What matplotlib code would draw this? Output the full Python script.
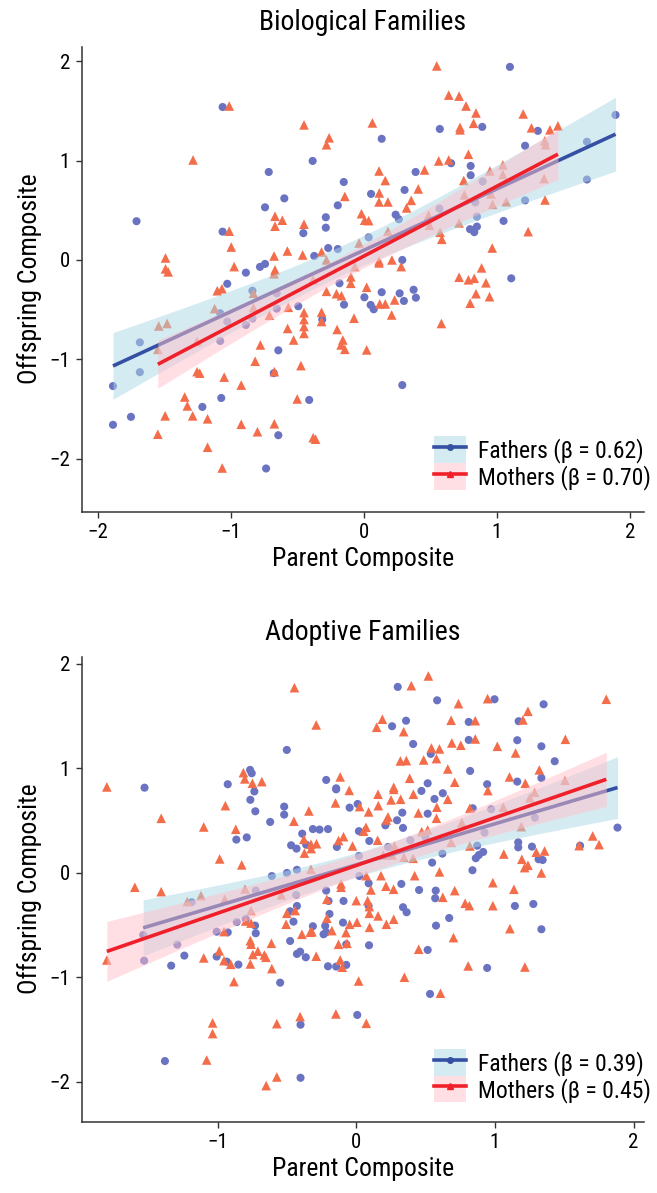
import numpy as np
import matplotlib
matplotlib.use("Agg")
import matplotlib.pyplot as plt
from matplotlib.patches import Patch
from matplotlib.lines import Line2D

# ---------------- data ----------------
bio_f_x = [-1.061, -1.708, -0.714, -0.384, -0.150, -0.742, -0.597, -0.195, -0.285, -0.285, -0.454, -1.061,
           -0.372, -0.267, -0.195, -0.78, -0.742,
           -0.886, -1.026, -0.837, -1.683, -1.683, -1.885, -1.885, -1.75, -1.079, -1.026, -1.079, -0.886,
           -0.837, -0.654, -0.654, -0.492, -0.312, -0.182, -0.148, -0.642, -0.676, -1.071, -1.213, -0.41,
           -0.642, -0.734,
           1.099, 0.572, 0.891, 1.309, 0.135, 1.213, 1.678, 1.893, 1.678, 0.657, 0.804, 0.804, 0.39, 0.894,
           0.307, 0.055, 1.213, 0.569, 0.839, 0.24, 0.264, 0.851, 1.051, 0.851, 0.799, 0.831, 0.037, 0.29,
           1.109, 0.005, 0.135, 0.27, 0.375, 0.392, 0.302, 0.052, 0.075, 0.29]
bio_f_y = [1.54, 0.39, 0.886, 0.997, 0.785, 0.53, 0.62, 0.55, 0.43, 0.325, 0.27, 0.285,
           0.04, 0.12, 0.11, -0.07, -0.04,
           -0.128, -0.24, -0.31, -0.83, -1.13, -1.27, -1.66, -1.58, -0.537, -0.62, -0.816, -0.655,
           -0.59, -0.49, -0.336, -0.466, -0.6, -0.235, -0.45, -0.91, -1.14, -1.39, -1.48, -1.41,
           -1.765, -2.10,
           1.944, 1.319, 1.34, 1.30, 1.22, 1.15, 1.19, 1.46, 0.81, 0.974, 0.947, 0.853, 0.886, 0.79,
           0.705, 0.665, 0.60, 0.517, 0.58, 0.456, 0.41, 0.436, 0.393, 0.336, 0.31, 0.28, 0.228, 0.0,
           -0.185, -0.376, -0.325, -0.336, -0.30, -0.38, -0.413, -0.453, -0.497, -1.26]

bio_m_x = [-1.011, -1.283, -0.449, -0.26, -0.28, -0.142, -0.667, -0.612, -0.667, -0.449, -1.011, -0.996,
           -0.574, -0.674, -0.459, -0.317, -0.035, -0.28, -1.49,
           -1.49, -1.47, -0.974, -0.667, -0.674, -1.101, -1.066, -1.121, -0.829, -0.829, -0.709, -1.541,
           -1.478, -1.548, -1.253, -1.253, -1.233, -1.049, -0.921, -0.777, -0.816, -1.346, -1.326, -1.286,
           -1.174, -1.493, -1.548, -1.174, -1.064, -0.921, -0.799, -0.672, -0.672, -0.472, -0.5, -0.38,
           -0.362, -0.572, -0.527, -0.567, -0.449, -0.449, -0.449, -0.449, -0.317, -0.317, -0.2, -0.157,
           -0.17, -0.142, -0.073, -0.28, -0.205, -0.167, -0.097, -0.097, -0.38, -0.067,
           0.549, 0.639, 0.717, 0.769, 0.844, 0.065, 0.724, 0.724, 0.826, 1.199, 1.261, 1.40, 1.46, 1.361,
           1.366, 1.356, 1.363, 1.046, 1.046, 0.949, 0.787, 0.564, 0.639, 0.457, 0.115, 0.162, 0.752,
           0.117, 0.41, 0.357, 0.115, 0.182, 0.322, 0.757, 0.957, 0.969, 1.071, -0.017, 0.007, 0.037,
           0.487, 0.494, 0.182, 0.717, 0.574, 0.587, 1.236, 0.966, 0.115, 0.115, 0.212, 0.282, 0.886,
           0.022, 0.12, 0.162, 0.232, 0.21, 0.717, 0.787, 0.831, 0.919, 0.844, 0.946, 0.80, 0.584, 0.022]
bio_m_y = [1.55, 1.007, 1.36, 1.23, 1.16, 0.64, 0.44, 0.40, 0.34, 0.36, 0.29, 0.13,
           0.09, 0.04, 0.05, 0.08, 0.17, 0.0, 0.02,
           -0.09, -0.12, -0.067, -0.10, -0.14, -0.31, -0.29, -0.49, -0.336, -0.48, -0.557, -0.665,
           -0.64, -0.90, -0.82, -1.125, -1.14, -1.18, -1.26, -0.856, -1.02, -1.38, -1.47, -1.57,
           -1.60, -1.57, -1.755, -1.886, -2.095, -1.655, -1.73, -1.65, -1.125, -1.064, -1.40, -1.79,
           -1.805, -0.69, -0.806, -0.477, -0.53, -0.60, -0.67, -0.74, -0.527, -0.62, -0.70, -0.806,
           -0.856, -0.90, -0.587, -0.316, -0.34, -0.36, -0.17, -0.235, -0.20, -0.067,
           1.954, 1.66, 1.65, 1.55, 1.48, 1.38, 1.335, 1.31, 1.376, 1.47, 1.33, 1.31, 1.35, 1.20,
           1.16, 0.82, 0.604, 0.957, 0.86, 0.896, 1.064, 0.997, 1.007, 0.906, 0.896, 0.80, 0.80,
           0.675, 0.715, 0.60, 0.584, 0.584, 0.524, 0.655, 0.665, 0.56, 0.587, 0.466, 0.40, 0.396,
           0.45, 0.35, 0.289, 0.373, 0.279, 0.208, 0.285, 0.12, -0.01, -0.03, 0.0, -0.067, -0.08,
           -0.275, -0.443, -0.443, -0.403, -0.554, -0.174, -0.20, -0.185, -0.23, -0.34, -0.37, -0.436, -0.64, -0.906]

ado_f_x = [-1.527, -0.501, -0.927, -0.766, -0.754, -0.735, -0.764, -0.728, -0.621, -0.52, -0.52, -0.217,
           -0.145, -0.145, -0.048, 0.01, 0.019, -0.39, -0.313, -0.265, -0.204, -0.47, -0.431, -0.361,
           -0.14, -0.865, -0.79, -0.609, -0.50, -0.428, 0.019,
           -1.187, -1.537, -1.53, -1.291, -1.335, -1.24, -1.38, -1.007, -1.007, -0.927, -0.862, -0.797,
           -0.73, -0.725, -0.725, -0.934, -0.85, -0.549, -0.434, -0.428, -0.477, -0.453, -0.477, -0.405,
           -0.428, -0.364, -0.313, -0.217, -0.2, -0.193, -0.224, -0.236, -0.217, -0.092, -0.096, -0.072,
           -0.204, -0.145, -0.072, -0.402, -0.402, 0.007,
           0.299, 0.583, 0.997, 1.351, 0.359, 0.258, 0.811, 1.171, 0.811, 1.161, 1.335, 0.41, 0.537,
           1.431, 0.821, 1.335, 1.161, 0.944, 0.515, 0.47, 0.624, 0.564, 0.332, 0.515, 0.294, 0.21,
           0.337, 0.094, 0.84, 0.973, 0.925, 1.288, 0.499, 0.39, 0.229, 0.621, 0.547, 0.872, 0.915,
           0.884, 0.862, 0.838, 1.168, 1.168, 1.267, 1.315, 1.344, 1.614, 1.884,
           0.022, 0.089, 0.325, 0.453, 0.573, 0.569, 0.089, 0.337, 0.363, 0.67, 0.575, 0.092, 0.515,
           0.944, 0.532, 1.144, 1.277, 1.335]
ado_f_y = [0.816, 1.177, 0.849, 0.986, 0.954, 0.78, 0.70, 0.59, 0.488, 0.635, 0.558, 0.89,
           0.80, 0.81, 0.625, 0.66, 0.40, 0.376, 0.42, 0.415, 0.42, 0.265, 0.233, 0.27,
           0.249, 0.319, 0.34, -0.03, 0.0, 0.03, 0.163,
           -0.28, -0.593, -0.839, -0.686, -0.887, -0.791, -1.80, -0.80, -0.562, -0.568, -0.47, -0.44,
           -0.504, -0.577, -0.169, -0.849, -0.877, -1.05, -0.21, -0.316, -0.367, -0.466, -0.651, -0.753,
           -0.775, -0.807, -0.51, -0.169, -0.268, -0.392, -0.507, -0.587, -0.568, -0.268, -0.475, -0.683,
           -0.893, -0.896, -0.88, -1.452, -1.96, -1.359,
           1.78, 1.652, 1.662, 1.614, 1.457, 1.404, 1.445, 1.452, 1.273, 1.27, 1.212, 1.234, 1.139,
           1.069, 0.976, 0.909, 0.874, 0.849, 0.858, 0.785, 0.763, 0.708, 0.577, 0.567, 0.504, 0.456,
           0.431, 0.306, 0.619, 0.61, 0.386, 0.529, 0.347, 0.313, 0.249, 0.185, 0.099, 0.261, 0.201,
           0.172, 0.141, 0.026, 0.293, 0.245, 0.252, 0.131, 0.124, 0.261, 0.434,
           -0.029, -0.099, -0.105, -0.163, -0.169, -0.242, -0.316, -0.328, -0.376, -0.431, -0.504, -0.692, -0.737,
           -0.909, -1.158, -0.316, -0.297, -0.539]

ado_m_x = [-1.799, -0.446, -0.289, -1.407, -1.1, -0.944, -0.869, -0.985, -0.826, -0.814, -0.804, -0.749,
           -0.681, -0.45, -0.342, -0.116, -0.051, -0.15, 0.024, -0.378, -0.327, -0.287, -0.325, -0.374,
           -0.128, -0.092, -0.027, -0.327,
           -1.597, -1.407, -1.12, -1.219, -0.949, -0.802, -0.759, -0.797, -0.759, -1.799, -1.1, -0.988,
           -0.954, -0.905, -0.954, -0.764, -0.759, -0.71, -0.746, -0.663, -0.652, -0.764, -0.612, -0.609,
           -0.882, -1.036, -1.036, -1.079, -0.573, -0.405, -0.573, -0.65, -0.147, -0.501, -0.441, -0.506,
           -0.392, -0.332, -0.32, -0.289, -0.212, -0.212, -0.176, -0.11, -0.11, -0.074, -0.128, -0.067,
           -0.116, -0.101, -0.048, 0.005, 0.0, 0.017, -0.54,
           0.52, 0.397, 0.737, 0.947, 1.238, 1.202, 1.803, 0.188, 0.147, 0.342, 0.684, 0.858, 0.858,
           0.689, 0.754, 1.017, 1.149, 1.508, 0.542, 0.6, 0.578, 0.318, 0.361, 0.486, 0.66, 0.385,
           0.71, 1.105, 1.219, 1.32, 0.27, 0.27, 0.157, 0.412, 0.251, 0.32, 0.66, 0.949, 0.159, 0.089,
           0.581, 0.448, 0.578, 0.229, 0.217, 0.819, 1.06, 1.286, 1.252, 1.505, 0.761, 1.19, 0.07,
           0.053, 0.472, 0.515, 0.154, 0.275, 0.684, 0.819, 1.064, 1.194, 1.298, 1.358, 1.705, 1.751,
           1.607, 0.344, 0.41, 0.195, 0.258, 0.178, 0.072, 0.421, 0.6, 1.214, 1.238, 1.335,
           0.985, 1.137, 0.106, 0.214, 0.269, 0.082, 0.094, 0.094, 0.157, 0.096, 0.217, 0.27,
           0.624, 0.71, 0.785, 0.816, 0.985, 1.108, 0.701, 0.45, 0.807, 1.216, 0.347, 0.607, 0.072]
ado_m_y = [0.823, 1.773, 1.416, 0.523, 0.44, 0.644, 0.418, 0.134, 0.077, 0.96, 0.90, 0.858,
           0.874, 0.495, 0.593, 0.919, 0.79, 0.67, 0.635, 0.322, 0.275, 0.28, 0.233, 0.19,
           0.31, 0.347, 0.258, 0.035,
           -0.137, -0.179, -0.217, -0.274, -0.252, -0.153, -0.36, -0.46, -0.48, -0.833, -0.813, -0.746,
           -0.839, -0.874, -0.561, -0.648, -0.682, -0.749, -0.78, -0.785, -0.807, -0.871, -0.673, -0.915,
           -1.04, -1.435, -1.537, -1.79, -1.442, -1.375, -1.952, -2.035, -1.349, -0.386, -0.36, -0.491,
           -0.587, -0.568, -0.562, -0.797, -0.252, -0.434, -0.552, -0.105, -0.137, -0.571, -0.683, -0.673,
           -0.833, -0.902, -0.491, -0.472, -0.265, -1.034, -0.21,
           1.885, 1.792, 1.62, 1.668, 1.547, 1.464, 1.662, 1.471, 1.394, 1.352, 1.461, 1.457, 1.282,
           1.244, 1.222, 1.212, 1.148, 1.279, 1.196, 1.187, 1.094, 1.072, 1.075, 1.081, 0.995, 0.906,
           0.868, 0.919, 0.858, 0.986, 0.82, 0.80, 0.753, 0.753, 0.699, 0.705, 0.705, 0.788, 0.644, 0.584,
           0.629, 0.574, 0.523, 0.536, 0.507, 0.619, 0.629, 0.772, 0.718, 0.887, 0.481, 0.443, 0.437,
           0.399, 0.395, 0.411, 0.313, 0.258, 0.293, 0.258, 0.181, 0.131, 0.198, 0.21, 0.354, 0.271,
           0.261, 0.15, 0.14, 0.172, 0.172, -0.026, -0.026, -0.026, 0.01, 0.051, 0.074, 0.0,
           -0.093, -0.156, -0.163, -0.127, -0.156, -0.265, -0.322, -0.386, -0.411, -0.52, -0.491, -0.443,
           -0.233, -0.169, -0.29, -0.313, -0.313, -0.533, -0.619, -0.73, -0.89, -0.90, -0.998, -1.151, -1.439]

panel_titles = ["Biological Families", "Adoptive Families"]
father_labels = ["Fathers (\u03b2 = 0.62)", "Fathers (\u03b2 = 0.39)"]
mother_labels = ["Mothers (\u03b2 = 0.70)", "Mothers (\u03b2 = 0.45)"]
x_ticks = [[-2, -1, 0, 1, 2], [-1, 0, 1, 2]]
y_ticks = [-2, -1, 0, 1, 2]

# ---------------- style ----------------
plt.rcParams["font.family"] = ["Roboto Condensed", "DejaVu Sans"]
plt.rcParams["axes.unicode_minus"] = True

PT_BLUE = "#6A73C2"
PT_RED = "#F46D4B"
LN_BLUE = "#3550A3"
LN_RED = "#F0202A"
BD_BLUE = "#ADD8E6"
BD_RED = "#FFC0CB"
AX_COL = "#333333"

fig = plt.figure(figsize=(6.57, 11.93), dpi=100)
ax_top = fig.add_axes([0.1244, 0.5711, 0.8558, 0.3898])
ax_bot = fig.add_axes([0.1244, 0.0598, 0.8558, 0.3898])


def reg_band(x, y, n_grid=100):
    x = np.asarray(x, float)
    y = np.asarray(y, float)
    b, a = np.polyfit(x, y, 1)
    xs = np.linspace(x.min(), x.max(), n_grid)
    yhat = a + b * xs
    resid = y - (a + b * x)
    n = len(x)
    s = np.sqrt(np.sum(resid ** 2) / (n - 2))
    sxx = np.sum((x - x.mean()) ** 2)
    se = s * np.sqrt(1.0 / n + (xs - x.mean()) ** 2 / sxx)
    t = 1.98
    return xs, yhat, yhat - t * se, yhat + t * se


panels = [
    (ax_top, bio_f_x, bio_f_y, bio_m_x, bio_m_y, (-2.12, 2.107), (-2.535, 2.148), 0.047),
    (ax_bot, ado_f_x, ado_f_y, ado_m_x, ado_m_y, (-1.98, 2.075), (-2.38, 2.07), 0.041),
]

for i, (ax, fx, fy, mx, my, xl, yl, leg_y) in enumerate(panels):
    ax.scatter(fx, fy, s=34, marker="o", color=PT_BLUE, edgecolors="none", zorder=2)
    ax.scatter(mx, my, s=48, marker="^", color=PT_RED, edgecolors="none", zorder=2.1)

    xs, yh, lo, hi = reg_band(fx, fy)
    ax.fill_between(xs, lo, hi, color=BD_BLUE, alpha=0.5, linewidth=0, zorder=3)
    ax.plot(xs, yh, color=LN_BLUE, lw=2.6, solid_capstyle="butt", zorder=4)

    xs, yh, lo, hi = reg_band(mx, my)
    ax.fill_between(xs, lo, hi, color=BD_RED, alpha=0.5, linewidth=0, zorder=5)
    ax.plot(xs, yh, color=LN_RED, lw=2.6, solid_capstyle="butt", zorder=6)

    ax.set_xlim(*xl)
    ax.set_ylim(*yl)
    ax.set_xticks(x_ticks[i])
    ax.set_yticks(y_ticks)
    ax.spines["top"].set_visible(False)
    ax.spines["right"].set_visible(False)
    for sp in ("left", "bottom"):
        ax.spines[sp].set_color(AX_COL)
        ax.spines[sp].set_linewidth(1.1)
    ax.tick_params(axis="both", direction="out", length=4.5, width=1.0, color=AX_COL,
                   labelsize=15, labelcolor="black", pad=4)
    ax.set_title(panel_titles[i], fontsize=20, pad=12)
    ax.set_xlabel("Parent Composite", fontsize=18.5, labelpad=3)
    ax.set_ylabel("Offspring Composite", fontsize=18.5, labelpad=5)

    h_f = (Patch(facecolor=BD_BLUE, alpha=0.5, edgecolor="none"),
           Line2D([], [], color=LN_BLUE, lw=2.6, marker="o", markersize=4))
    h_m = (Patch(facecolor=BD_RED, alpha=0.5, edgecolor="none"),
           Line2D([], [], color=LN_RED, lw=2.6, marker="^", markersize=4.5))
    ax.legend([h_f, h_m], [father_labels[i], mother_labels[i]], loc="lower right",
              bbox_to_anchor=(1.012, leg_y), frameon=False, fontsize=17,
              handlelength=1.35, handleheight=1.35, labelspacing=0.0,
              handletextpad=0.5, borderpad=0.0, borderaxespad=0.0, numpoints=1)

fig.savefig("out.png", dpi=100)
